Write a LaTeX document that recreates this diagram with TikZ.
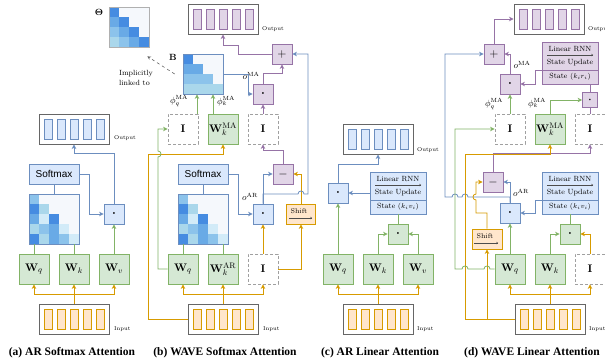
\documentclass[tikz,border=0pt]{standalone}
\usepackage{amsmath}
\usepackage[no-math]{fontspec}
\newfontfamily\sansA{Liberation Sans}
\newfontfamily\capA{Liberation Serif}
\usetikzlibrary{arrows.meta,calc}
\definecolor{bF}{HTML}{DAE8FC}\definecolor{bS}{HTML}{6C8EBF}
\definecolor{gF}{HTML}{D5E8D4}\definecolor{gS}{HTML}{82B366}
\definecolor{oF}{HTML}{FFE6CC}\definecolor{oS}{HTML}{D79B00}
\definecolor{pF}{HTML}{E1D5E7}\definecolor{pS}{HTML}{9673A6}
\definecolor{dG}{HTML}{A0A0A0}\definecolor{fG}{HTML}{666666}
\definecolor{thG}{HTML}{B0B0B0}
\definecolor{mD}{HTML}{468CE1}\definecolor{mM}{HTML}{69AAE6}
\definecolor{mL}{HTML}{8CC3EB}\definecolor{mP}{HTML}{AAD7EB}
\definecolor{mV}{HTML}{D2EBF8}\definecolor{mW}{HTML}{F5F8FC}
\newcommand{\dotsym}{$\boldsymbol{\cdot}$}
\newcommand{\seqbox}[5]{%
  \node[seqframe] (#1) at (#2,#3) {};
  \foreach \k in {-2,-1,0,1,2}{\draw[line width=0.8pt,fill=#4,draw=#5] (#2+\k*13-4,#3-10) rectangle ++(8,20);}
}
\newcommand{\mrow}[3]{\foreach \c [count=\i from 0] in {#3}{\fill[fill=\c] (#1+\i*10,#2) rectangle ++(10,10);}}
\newcommand{\smat}[2]{%
  \mrow{#1}{#2}{mL,mW,mW,mW,mW}
  \mrow{#1}{#2+10}{mD,mP,mW,mW,mW}
  \mrow{#1}{#2+20}{mM,mV,mD,mW,mW}
  \mrow{#1}{#2+30}{mP,mL,mM,mV,mW}
  \mrow{#1}{#2+40}{mD,mP,mM,mL,mV}
}
\newcommand{\rnnbox}[6]{%
  \node[draw=#5,fill=#4,line width=0.8pt,minimum width=56pt,minimum height=42pt,inner sep=0pt] (#1) at (#2,#3) {};
  \draw[draw=#5,line width=0.8pt] (#2-28,#3+7) -- (#2+28,#3+7);
  \node[rnntxt] (#1t1) at (#2,#3-14) {Linear RNN};
  \draw[thinarr] (#2-23,#3-8) -- (#2+23,#3-8);
  \node[rnntxt] (#1t2) at (#2,#3) {State Update};
  \node[rnntxt] (#1t3) at (#2,#3+14) {State #6};
}
\begin{document}
\begin{tikzpicture}[x=1pt,y=-1pt,
  lnw/.style={line width=0.8pt},
  atip/.style={-{Stealth[length=4.5pt,width=4.5pt,inset=1.3pt]}},
  barr/.style={lnw,draw=bS,atip}, bln/.style={lnw,draw=bS},
  garr/.style={lnw,draw=gS,atip}, gln/.style={lnw,draw=gS},
  oarr/.style={lnw,draw=oS,atip}, oln/.style={lnw,draw=oS},
  parr/.style={lnw,draw=pS,atip}, pln/.style={lnw,draw=pS},
  nb/.style={line width=0.8pt,inner sep=0pt,minimum width=20pt,minimum height=20pt},
  bluebox/.style={nb,draw=bS,fill=bF},
  greenbox/.style={nb,draw=gS,fill=gF},
  orangebox/.style={nb,draw=oS,fill=oF},
  purplebox/.style={nb,draw=pS,fill=pF},
  opf/.style={font=\fontsize{12}{12}\selectfont},
  wbox/.style={greenbox,minimum width=30pt,minimum height=30pt,font=\fontsize{11}{13}\selectfont},
  idbox/.style={nb,draw=dG,dash pattern=on 3pt off 2pt,fill=white,minimum width=30pt,minimum height=30pt,font=\fontsize{11}{13}\selectfont},
  seqframe/.style={draw=fG,line width=1pt,minimum width=70pt,minimum height=30pt,inner sep=0pt},
  mframe/.style={draw=#1,line width=0.7pt,inner sep=0pt},
  iolbl/.style={font=\fontsize{5.5}{6}\selectfont,inner sep=0pt,anchor=west},
  lbl/.style={font=\fontsize{9}{10}\selectfont,inner sep=0pt},
  rnntxt/.style={font=\fontsize{7.5}{8}\selectfont,inner sep=0pt},
  thinarr/.style={line width=0.4pt,draw=black!70,-{To[length=2pt,width=2.5pt]}},
  captxt/.style={font=\capA\bfseries\fontsize{11.5}{13}\selectfont,inner sep=0pt},
  smx/.style={bluebox,minimum width=50pt,font=\sansA\fontsize{10}{12}\selectfont}
]
\fill[white] (0,0) rectangle (605,364);
\useasboundingbox (0,0) rectangle (605,364);

% ---------------- Theta ----------------
\mrow{109}{7}{mD,mW,mW,mW}
\mrow{109}{17}{mM,mD,mW,mW}
\mrow{109}{27}{mL,mM,mD,mW}
\mrow{109}{37}{mP,mL,mM,mD}
\node[mframe=thG,minimum size=40pt] (thetaM) at (129,27) {};
\node[lbl] (thetaL) at (99,12) {$\mathbf{\Theta}$};
\node[font=\fontsize{7.5}{10}\selectfont,inner sep=0pt,anchor=west,align=left] (implT) at (119,78) {Implicitly\\linked to};

% ---------------- (a) ----------------
\seqbox{outA}{74}{129}{bF}{bS}
\node[iolbl] (outAl) at (114,138) {Output};
\node[smx] (smA) at (54,174) {Softmax};
\smat{29}{194}
\node[mframe=bS,minimum size=50pt] (matA) at (54,219) {};
\node[bluebox,opf] (dotA) at (114,214) {\dotsym};
\node[wbox] (WqA) at (34,269) {$\mathbf{W}_q$};
\node[wbox] (WkA) at (74,269) {$\mathbf{W}_k$};
\node[wbox] (WvA) at (114,269) {$\mathbf{W}_v$};
\seqbox{inA}{74}{319}{oF}{oS}
\node[iolbl] (inAl) at (114,329) {Input};
\draw[bln] (smA.south) -- (matA.north);
\draw[barr] (smA.east) -- ++(10,0) |- (dotA.west);
\draw[barr] (dotA.north) -- ++(0,-50) -| (outA.south);
\draw[gln] (WqA.north) -- (WqA.north |- matA.south);
\draw[gln] (WkA.north) -- (WkA.north |- matA.south);
\draw[garr] (WvA.north) -- (dotA.south);
\draw[oarr] (inA.north) -- ++(0,-9) -| (WqA.south);
\draw[oarr] (inA.north) -- ++(0,-9) -| (WvA.south);
\draw[oarr] (inA.north) -- (WkA.south);
\node[captxt] (capA) at (72,353) {(a) AR Softmax Attention};

% ---------------- (b) ----------------
\seqbox{outB}{223}{19}{pF}{pS}
\node[iolbl] (outBl) at (262,29) {Output};
\node[purplebox,opf] (plusB) at (282,54) {$+$};
\mrow{183}{54}{mD,mW,mW,mW}
\mrow{183}{64}{mM,mM,mW,mW}
\mrow{183}{74}{mL,mL,mL,mW}
\mrow{183}{84}{mP,mP,mP,mP}
\node[mframe=bS,minimum size=40pt] (Bm) at (203,74) {};
\node[lbl] (BL) at (173,57) {$\mathbf{B}$};
\node[purplebox,opf] (dotMB) at (263,94) {\dotsym};
\node[idbox] (IMAb) at (183,129) {$\mathbf{I}$};
\node[wbox] (WkMAb) at (223,129) {$\mathbf{W}_k^{\mathrm{MA}}$};
\node[idbox] (I3b) at (263,129) {$\mathbf{I}$};
\node[purplebox,opf] (minusB) at (283,174) {$-$};
\node[smx] (smB) at (203,174) {Softmax};
\smat{178}{194}
\node[mframe=bS,minimum size=50pt] (matB) at (203,219) {};
\node[bluebox,opf] (dotARb) at (263,214) {\dotsym};
\node[orangebox,minimum width=29pt] (shiftB) at (301,214) {};
\node[rnntxt,font=\fontsize{7}{8}\selectfont] (shiftBt) at (299,211) {Shift};
\draw[thinarr] (289,218) -- (312,218);
\node[wbox] (WqB) at (183,269) {$\mathbf{W}_q$};
\node[wbox] (WkARb) at (223,269) {$\mathbf{W}_k^{\mathrm{AR}}$};
\node[idbox] (IARb) at (263,269) {$\mathbf{I}$};
\seqbox{inB}{223}{319}{oF}{oS}
\node[iolbl] (inBl) at (263,329) {Input};
\node[lbl] (oMAb) at (251,76) {$o^{\mathrm{MA}}$};
\node[lbl] (oARb) at (250,197) {$o^{\mathrm{AR}}$};
\node[lbl] (phiqb) at (179,101) {$\phi_q^{\mathrm{MA}}$};
\node[lbl] (phikb) at (226,101) {$\phi_k^{\mathrm{MA}}$};
\draw[parr] (plusB.west) -- (238,54) -- (238,45) -| (outB.south);
\draw[parr] (dotMB.north) -- ++(0,-10) -| (plusB.south);
\draw[barr] (Bm.east) -- (248,74) |- (dotMB.west);
\draw[garr] ([xshift=14pt]IMAb.north) -- ([xshift=14pt]IMAb.north |- Bm.south);
\draw[garr] ([xshift=-10pt]WkMAb.north) -- ([xshift=-10pt]WkMAb.north |- Bm.south);
\draw[parr] (I3b.north) -- (dotMB.south);
\draw[parr] (minusB.north) -- ++(0,-13) -| (I3b.south);
\draw[bln] (smB.south) -- (matB.north);
\draw[barr] (smB.east) -- ++(10,0) |- (dotARb.west);
\draw[gln] (WqB.north) -- (WqB.north |- matB.south);
\draw[gln] (WkARb.north) -- (WkARb.north |- matB.south);
\draw[oarr] (IARb.north) -- (dotARb.south);
\draw[oarr] (IARb.east) -| (shiftB.south);
\draw[oarr] (shiftB.north) |- (minusB.east);
\draw[barr] (dotARb.north) |- (minusB.west);
\draw[barr] (dotARb.north) -- (263,194) -- (298,194) .. controls (298,190) and (304,190) .. (304,194) -- (308,194) -- (308,54) -- (plusB.east);
\draw[oarr] (inB.west) -- (148,319) -- (148,154) -| (WkMAb.south);
\draw[garr] (WqB.west) -- (158,269) -- (158,157) .. controls (162,157) and (162,151) .. (158,151) -- (158,129) -- (IMAb.west);
\draw[oarr] (inB.north) -- ++(0,-9) -| (WqB.south);
\draw[oarr] (inB.north) -- ++(0,-9) -| (IARb.south);
\draw[oarr] (inB.north) -- (WkARb.south);
\draw[dashed,line width=0.6pt,draw=black!60,-{Stealth[length=3.5pt,width=3.5pt]}] ($(Bm.west)+(-8,0)$) -- ($(thetaM.south east)+(-2,9)$);
\node[captxt] (capB) at (225,353) {(b) WAVE Softmax Attention};

% ---------------- (c) ----------------
\seqbox{outC}{378}{139}{bF}{bS}
\node[iolbl] (outCl) at (417,150) {Output};
\node[bluebox,opf] (dotC) at (338,193) {\dotsym};
\rnnbox{rnnC}{398}{193}{bF}{bS}{$(k_iv_i)$}
\node[greenbox,opf] (gdotC) at (398,234) {\dotsym};
\node[wbox] (WqC) at (338,269) {$\mathbf{W}_q$};
\node[wbox] (WkC) at (378,269) {$\mathbf{W}_k$};
\node[wbox] (WvC) at (418,269) {$\mathbf{W}_v$};
\seqbox{inC}{378}{319}{oF}{oS}
\node[iolbl] (inCl) at (417,329) {Input};
\draw[barr] (dotC.north) -- ++(0,-18) -| (outC.south);
\draw[barr] (rnnC.west) -- (dotC.east);
\draw[gln] (gdotC.north) -- (rnnC.south);
\draw[garr] (WqC.north) -- (dotC.south);
\draw[garr] (WkC.north) |- (gdotC.west);
\draw[garr] (WvC.north) |- (gdotC.east);
\draw[oarr] (inC.north) -- ++(0,-9) -| (WqC.south);
\draw[oarr] (inC.north) -- ++(0,-9) -| (WvC.south);
\draw[oarr] (inC.north) -- (WkC.south);
\node[captxt] (capC) at (380,353) {(c) AR Linear Attention};

% ---------------- (d) ----------------
\seqbox{outD}{549}{19}{pF}{pS}
\node[iolbl] (outDl) at (588,29) {Output};
\node[purplebox,opf] (plusD) at (494,54) {$+$};
\node[purplebox,opf] (dotMD) at (510,84) {\dotsym};
\rnnbox{rnnMD}{570}{63}{pF}{pS}{$(k_ir_i)$}
\node[purplebox,opf,minimum width=15pt,minimum height=15pt,font=\fontsize{10}{10}\selectfont] (smD) at (590,100) {\dotsym};
\node[idbox] (IMAd) at (510,129) {$\mathbf{I}$};
\node[wbox] (WkMAd) at (550,129) {$\mathbf{W}_k^{\mathrm{MA}}$};
\node[idbox] (I3d) at (590,129) {$\mathbf{I}$};
\node[purplebox,opf] (minusD) at (493,182) {$-$};
\node[bluebox,opf] (dotARd) at (510,213) {\dotsym};
\rnnbox{rnnAD}{570}{193}{bF}{bS}{$(k_iv_i)$}
\node[greenbox,opf] (gdotD) at (570,234) {\dotsym};
\node[orangebox,minimum width=30pt] (shiftD) at (487,239) {};
\node[rnntxt,font=\fontsize{7}{8}\selectfont] (shiftDt) at (485,236) {Shift};
\draw[thinarr] (474,243) -- (498,243);
\node[wbox] (WqD) at (510,269) {$\mathbf{W}_q$};
\node[wbox] (WkD) at (550,269) {$\mathbf{W}_k$};
\node[idbox] (ID) at (590,269) {$\mathbf{I}$};
\seqbox{inD}{550}{319}{oF}{oS}
\node[iolbl] (inDl) at (589,329) {Input};
\node[lbl] (oMAd) at (522,65) {$o^{\mathrm{MA}}$};
\node[lbl] (oARd) at (521,193) {$o^{\mathrm{AR}}$};
\node[lbl] (phiqd) at (494,104) {$\phi_q^{\mathrm{MA}}$};
\node[lbl] (phikd) at (537,103) {$\phi_k^{\mathrm{MA}}$};
\draw[parr] (plusD.north) |- (outD.west);
\draw[parr] (dotMD.north) |- (plusD.east);
\draw[parr] ([yshift=-7pt]rnnMD.west) -- (535,70) |- (dotMD.east);
\draw[pln] (smD.north) -- (smD.north |- rnnMD.south);
\draw[pln] (I3d.north) -- (smD.south);
\draw[garr] (WkMAd.north) |- (smD.west);
\draw[garr] (IMAd.north) -- (dotMD.south);
\draw[parr] (minusD.north) -- ++(0,-18) -| (I3d.south);
\draw[barr] (dotARd.north) |- (minusD.east);
\draw[barr] (dotARd.north) -- (510,197) -- (468,197) .. controls (468,193) and (462,193) .. (462,197) -- (458,197) .. controls (458,193) and (452,193) .. (452,197) -- (445,197) -- (445,54) -- (plusD.west);
\draw[barr] ([yshift=-7pt]rnnAD.west) -- (535,200) |- (dotARd.east);
\draw[gln] (gdotD.north) -- (rnnAD.south);
\draw[garr] (WqD.north) -- (dotARd.south);
\draw[garr] (WkD.north) |- (gdotD.west);
\draw[oarr] (ID.north) |- (gdotD.east);
\draw[oarr] (inD.west) -- (465,319) -- (465,154) -| (WkMAd.south);
\draw[oarr] (inD.west) -| (shiftD.south);
\draw[oarr] (shiftD.north) -- (487,213) -- (476,213) -- (476,200) .. controls (472,200) and (472,194) .. (476,194) -- (476,182) -- (minusD.west);
\draw[garr] (WqD.west) -- (490,269) .. controls (490,265) and (484,265) .. (484,269) -- (468,269) .. controls (468,265) and (462,265) .. (462,269) -- (455,269) -- (455,129) -- (IMAd.west);
\draw[oarr] (inD.north) -- ++(0,-9) -| (WqD.south);
\draw[oarr] (inD.north) -- ++(0,-9) -| (ID.south);
\draw[oarr] (inD.north) -- (WkD.south);
\node[captxt] (capD) at (532,353) {(d) WAVE Linear Attention};
\end{tikzpicture}
\end{document}
